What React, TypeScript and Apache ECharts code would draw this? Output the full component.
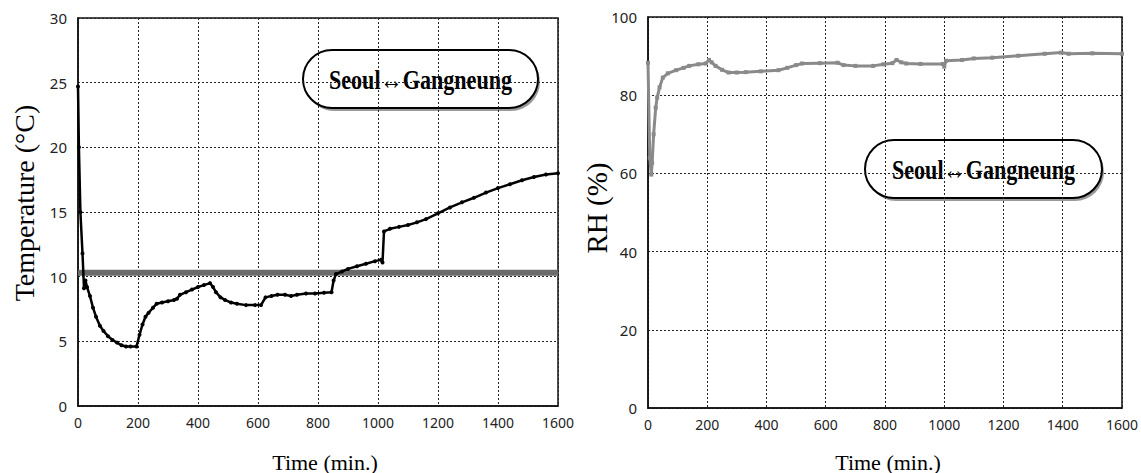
import React, { useEffect, useRef } from "react";
import * as echarts from "echarts";

// Left chart: temperature readings [time (min), °C]
const tempTimes = [0, 3, 8, 15, 20, 25, 30, 40, 50, 60, 73, 85, 100, 115, 130, 145, 160, 175, 195, 205, 215, 225, 235, 250, 262, 280, 300, 320, 330, 340, 360, 380, 400, 420, 440, 450, 460, 475, 490, 510, 530, 560, 590, 610, 625, 645, 665, 690, 710, 730, 760, 790, 820, 845, 852, 860, 880, 900, 930, 960, 990, 1010, 1015, 1020, 1040, 1070, 1100, 1130, 1160, 1200, 1240, 1280, 1320, 1360, 1400, 1440, 1480, 1520, 1560, 1600];
const tempValues = [24.7, 20.0, 15.0, 11.8, 9.1, 9.7, 9.2, 8.5, 7.6, 6.9, 6.2, 5.8, 5.4, 5.1, 4.9, 4.7, 4.6, 4.6, 4.6, 5.5, 6.3, 6.9, 7.2, 7.6, 7.9, 8.0, 8.1, 8.2, 8.3, 8.6, 8.8, 9.0, 9.2, 9.35, 9.5, 9.2, 8.8, 8.4, 8.2, 8.0, 7.9, 7.8, 7.8, 7.8, 8.4, 8.5, 8.6, 8.6, 8.5, 8.6, 8.7, 8.7, 8.75, 8.8, 9.7, 10.2, 10.4, 10.6, 10.8, 11.0, 11.2, 11.3, 11.1, 13.5, 13.7, 13.85, 14.0, 14.2, 14.45, 14.9, 15.35, 15.75, 16.1, 16.5, 16.85, 17.15, 17.45, 17.7, 17.9, 18.0];

// Left chart: grey reference line
const refTimes = [0, 1600];
const refValues = [10.3, 10.3];

// Right chart: relative humidity readings [time (min), %]
const rhTimes = [0, 6, 11, 14, 19, 26, 31, 39, 50, 67, 95, 120, 139, 170, 195, 206, 215, 228, 250, 272, 300, 330, 380, 440, 470, 500, 520, 580, 640, 660, 700, 760, 795, 825, 839, 855, 872, 920, 995, 1000, 1006, 1060, 1100, 1162, 1250, 1339, 1395, 1420, 1500, 1600];
const rhValues = [88.3, 64, 59.7, 62.7, 70, 76.8, 79.4, 82, 84.5, 85.6, 86.4, 87.0, 87.5, 87.9, 88.1, 89.0, 88.4, 87.5, 86.5, 85.8, 85.8, 85.9, 86.1, 86.4, 87.0, 87.7, 88.1, 88.2, 88.3, 87.7, 87.5, 87.5, 87.9, 88.2, 89.0, 88.4, 88.1, 88.0, 88.0, 87.3, 88.8, 89.0, 89.4, 89.6, 90.1, 90.6, 90.9, 90.6, 90.7, 90.6];

const legendLabel = "Seoul↔Gangneung";
const xTitle = "Time (min.)";
const yTitleLeft = "Temperature (°C)";
const yTitleRight = "RH (%)";

const zip = (xs: number[], ys: number[]) => xs.map((x, i) => [x, ys[i]]);

const gridLine = { show: true, lineStyle: { color: "#222", width: 1, type: [2, 2] as any } };
const tickLabel = { color: "#222", fontSize: 14, fontFamily: "Noto Sans", formatter: (v: number) => String(v) };

const makeX = (gridIndex: number) => ({
  type: "value",
  gridIndex,
  min: 0,
  max: 1600,
  interval: 200,
  axisLine: { show: true, lineStyle: { color: "#111", width: 1.5 } },
  axisTick: { show: false },
  axisLabel: { ...tickLabel, margin: 9 },
  splitLine: gridLine,
});

const makeY = (gridIndex: number, max: number, interval: number) => ({
  type: "value",
  gridIndex,
  min: 0,
  max,
  interval,
  axisLine: { show: true, lineStyle: { color: "#111", width: 1.5 } },
  axisTick: { show: false },
  axisLabel: { ...tickLabel, fontSize: 15, margin: 11 },
  splitLine: gridLine,
});

const legendBox = (x: number, y: number, w: number, h: number) => ({
  type: "group",
  x,
  y,
  children: [
    {
      type: "rect",
      shape: { x: 2, y: 3, width: w, height: h, r: h / 2 },
      style: { fill: "rgba(0,0,0,0.4)" },
    },
    {
      type: "rect",
      shape: { x: 0, y: 0, width: w, height: h, r: h / 2 },
      style: { fill: "#fff", stroke: "#000", lineWidth: 2 },
    },
    {
      type: "text",
      x: w / 2,
      y: h / 2 + 1,
      scaleX: 0.82,
      style: {
        text: legendLabel,
        font: 'bold 27px "Liberation Serif"',
        fill: "#000",
        align: "center",
        verticalAlign: "middle",
      },
    },
  ],
});

const titleText = (x: number, y: number, text: string, size: number, rotated: boolean) => ({
  type: "text",
  x,
  y,
  rotation: rotated ? Math.PI / 2 : 0,
  style: {
    text,
    font: `${size}px "Liberation Serif"`,
    fill: "#000",
    align: "center",
    verticalAlign: "middle",
  },
});

export default function App() {
  const ref = useRef<HTMLDivElement>(null);
  useEffect(() => {
    if (!ref.current) return;
    const chart = echarts.init(ref.current, undefined, { renderer: "svg" });
    chart.setOption({
      animation: false,
      backgroundColor: "#fff",
      grid: [
        { left: 78, top: 18, width: 480, height: 388, show: true, borderColor: "#111", borderWidth: 1.5, backgroundColor: "#fff" },
        { left: 648, top: 17, width: 479, height: 391, show: true, borderColor: "#111", borderWidth: 1.5, backgroundColor: "#fff" },
      ],
      xAxis: [makeX(0), makeX(1)],
      yAxis: [makeY(0, 30, 5), makeY(1, 100, 20)],
      series: [
        {
          type: "line",
          xAxisIndex: 0,
          yAxisIndex: 0,
          data: zip(refTimes, refValues),
          symbol: "none",
          lineStyle: { color: "#6b6b6b", width: 6 },
          z: 2,
        },
        {
          type: "line",
          xAxisIndex: 0,
          yAxisIndex: 0,
          data: zip(tempTimes, tempValues),
          symbol: "circle",
          symbolSize: 4,
          itemStyle: { color: "#000" },
          lineStyle: { color: "#000", width: 2.5 },
          z: 3,
        },
        {
          type: "line",
          xAxisIndex: 1,
          yAxisIndex: 1,
          data: zip(rhTimes, rhValues),
          symbol: "rect",
          symbolSize: 4,
          itemStyle: { color: "#8a8a8a" },
          lineStyle: { color: "#8a8a8a", width: 3 },
          z: 3,
        },
      ],
      graphic: [
        legendBox(303, 50, 235, 58),
        legendBox(865, 140, 237, 58),
        titleText(325, 462, xTitle, 22, false),
        titleText(888, 462, xTitle, 22, false),
        titleText(24, 203, yTitleLeft, 28, true),
        titleText(597, 208, yTitleRight, 29, true),
      ],
    });
    return () => chart.dispose();
  }, []);
  return (
    <div
      ref={ref}
      style={{ position: "absolute", left: 0, top: 0, width: 1141, height: 473 }}
    />
  );
}
